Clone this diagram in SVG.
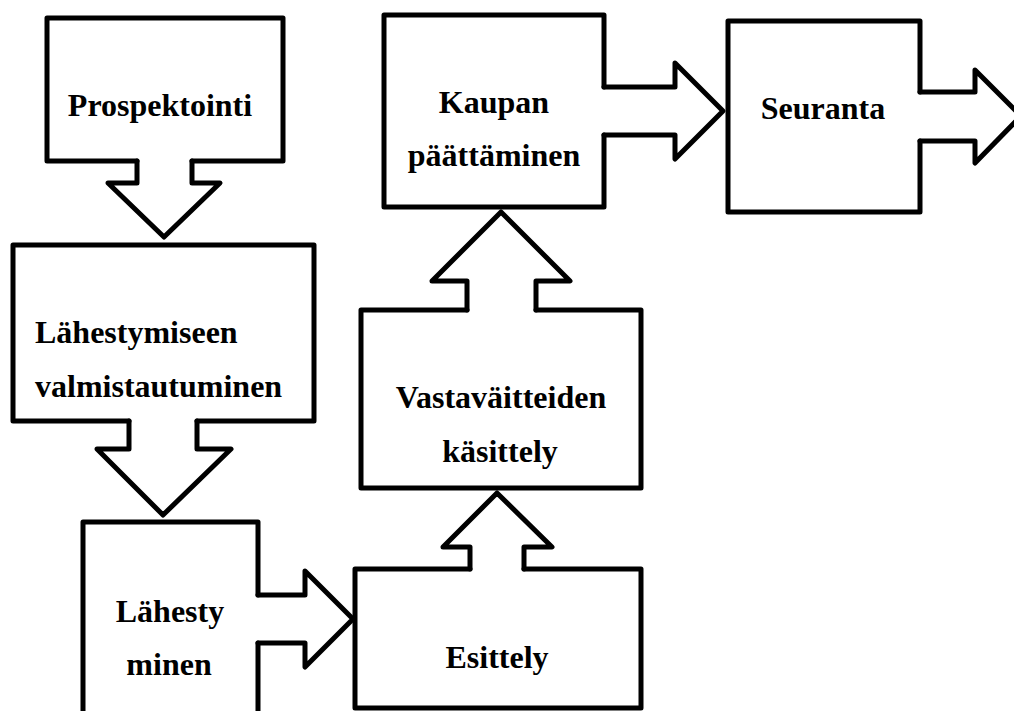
<svg xmlns="http://www.w3.org/2000/svg" width="1014" height="711" viewBox="0 0 1014 711">
<style>
.b{fill:none;stroke:#000;stroke-width:5;stroke-linejoin:round;stroke-linecap:round}
.t{font-family:"Liberation Serif","Times New Roman",serif;font-weight:bold;font-size:32px;fill:#000}
.c{text-anchor:middle}
</style>
<rect width="1014" height="711" fill="#fff"/>
<g id="n-prospektointi">
<path class="b" d="M137,161 L47,161 L47,18 L283,18 L283,161 L192,161"/>
<text class="t c" x="160" y="116">Prospektointi</text>
</g>
<g id="n-lahestymiseen">
<path class="b" d="M129,421 L13,421 L13,245 L314,245 L314,421 L197,421"/>
<text class="t" x="35" y="343">Lähestymiseen</text>
<text class="t" x="35" y="397">valmistautuminen</text>
</g>
<g id="n-lahestyminen">
<path class="b" d="M258,595 L258,522 L83,522 L83,720 M258,720 L258,643"/>
<text class="t c" x="170" y="622">Lähesty</text>
<text class="t c" x="169" y="675">minen</text>
</g>
<g id="n-esittely">
<path class="b" d="M470,569 L355,569 L355,708 L641,708 L641,569 L524,569"/>
<text class="t c" x="497" y="668">Esittely</text>
</g>
<g id="n-vastavaitteiden">
<path class="b" d="M467,310 L361,310 L361,488 L641,488 L641,310 L536,310"/>
<text class="t c" x="501" y="408">Vastaväitteiden</text>
<text class="t c" x="500" y="462">käsittely</text>
</g>
<g id="n-kaupan">
<path class="b" d="M604,87 L604,15 L384,15 L384,207 L604,207 L604,135"/>
<text class="t c" x="494" y="113">Kaupan</text>
<text class="t c" x="494" y="166">päättäminen</text>
</g>
<g id="n-seuranta">
<path class="b" d="M920,92 L920,21 L728,21 L728,212 L920,212 L920,141"/>
<text class="t c" x="823" y="119">Seuranta</text>
</g>
<g id="connectors">
<path class="b" d="M137,161 L137,183 L108,183 L164,237 L220,183 L192,183 L192,161"/>
<path class="b" d="M129,421 L129,449 L97,449 L163,515 L231,449 L197,449 L197,421"/>
<path class="b" d="M258,595 L305,595 L305,571 L353,619 L305,667 L305,643 L258,643"/>
<path class="b" d="M470,569 L470,547 L443,547 L497,493 L552,547 L524,547 L524,569"/>
<path class="b" d="M467,310 L467,281 L432,281 L501,212 L570,281 L536,281 L536,310"/>
<path class="b" d="M604,87 L675,87 L675,63 L723,111 L675,159 L675,135 L604,135"/>
<path class="b" d="M920,92 L975,92 L975,70 L1021,116 L975,163 L975,141 L920,141"/>
</g>
</svg>
